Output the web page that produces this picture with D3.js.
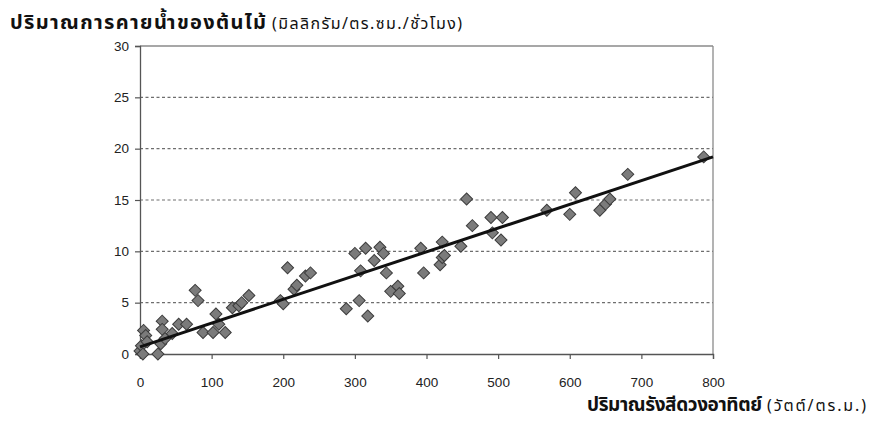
<!DOCTYPE html>
<html>
<head>
<meta charset="utf-8">
<script src="https://cdn.jsdelivr.net/npm/d3@7"></script>
<style>
  html, body { margin: 0; padding: 0; background: #ffffff; }
  svg { display: block; }
</style>
</head>
<body>
<svg id="chart" width="870" height="422"></svg>
<script>
// ---- data ----
const radiation = [0, 2, 4, 5, 8, 10, 25, 29, 31, 31, 35, 45, 54, 65, 77, 81, 88, 102, 106, 110, 119, 129, 138, 142, 152,
  196, 200, 206, 215, 219, 231, 238, 288, 300, 306, 308, 315, 318, 327, 335, 340, 344, 350, 360, 362,
  392, 396, 419, 422, 422, 425, 448, 456, 464, 490, 492, 504, 506, 568, 600, 608, 642, 650, 656, 681, 787];
const transpiration = [0.3, 0.8, 0, 2.3, 1.8, 1.2, 0, 1.0, 3.2, 2.4, 1.5, 2.0, 2.9, 2.9, 6.2, 5.2, 2.1, 2.1, 3.9, 2.9, 2.1, 4.5, 4.7, 5.0, 5.7,
  5.2, 4.9, 8.4, 6.3, 6.7, 7.6, 7.9, 4.4, 9.8, 5.2, 8.1, 10.3, 3.7, 9.1, 10.4, 9.8, 7.9, 6.1, 6.6, 5.9,
  10.3, 7.9, 8.7, 9.4, 10.9, 9.6, 10.5, 15.1, 12.5, 13.3, 11.8, 11.1, 13.3, 14.0, 13.6, 15.7, 14.0, 14.6, 15.1, 17.5, 19.2];
const trendX = [0, 800];
const trendY = [0.7, 19.2];
const xTicks = [0, 100, 200, 300, 400, 500, 600, 700, 800];
const yTicks = [0, 5, 10, 15, 20, 25, 30];
const yTitleMain = "ปริมาณการคายน้ำของต้นไม้";
const yTitleUnit = "(มิลลิกรัม/ตร.ซม./ชั่วโมง)";
const xTitleMain = "ปริมาณรังสีดวงอาทิตย์";
const xTitleUnit = "(วัตต์/ตร.ม.)";

// ---- layout ----
const svg = d3.select("#chart");
const plot = { left: 140, right: 713, top: 46, bottom: 354 };
const x = d3.scaleLinear().domain([0, 800]).range([plot.left, plot.right]);
const y = d3.scaleLinear().domain([0, 30]).range([plot.bottom, plot.top]);
const thaiFont = "'Noto Sans Thai', 'Noto Sans Thai Looped', Tahoma, 'Noto Sans', 'DejaVu Sans', sans-serif";
const numFont = "'Liberation Sans', Arial, sans-serif";

// gridlines (dashed), excluding 0 and 30
svg.append("g")
  .selectAll("line")
  .data(yTicks.filter(v => v > 0 && v < 30))
  .join("line")
  .attr("x1", plot.left).attr("x2", plot.right)
  .attr("y1", d => y(d)).attr("y2", d => y(d))
  .attr("stroke", "#6e6e6e").attr("stroke-width", 1.2)
  .attr("stroke-dasharray", "3,2.5");

// plot frame: top & right solid gray
svg.append("line").attr("x1", plot.left).attr("x2", plot.right)
  .attr("y1", y(30)).attr("y2", y(30)).attr("stroke", "#8a8a8a").attr("stroke-width", 1.3);
svg.append("line").attr("x1", plot.right).attr("x2", plot.right)
  .attr("y1", y(30)).attr("y2", y(0)).attr("stroke", "#8a8a8a").attr("stroke-width", 1.3);

// axes
const yAxis = d3.axisLeft(y).tickValues(yTicks).tickSize(5).tickPadding(6);
const gy = svg.append("g").attr("transform", `translate(${plot.left},0)`).call(yAxis);
const xAxis = d3.axisBottom(x).tickValues(xTicks).tickSize(5).tickPadding(18);
const gx = svg.append("g").attr("transform", `translate(0,${plot.bottom})`).call(xAxis);
[gx, gy].forEach(g => {
  g.select(".domain").attr("stroke", "#555").attr("stroke-width", 1.3);
  g.selectAll(".tick line").attr("stroke", "#555").attr("stroke-width", 1.2);
  g.selectAll(".tick text").attr("font-family", numFont).attr("font-size", 13.5).attr("fill", "#222");
});

// points (diamonds = squares rotated 45deg)
const pts = radiation.map((r, i) => ({ r, t: transpiration[i] }));
const diamond = d3.symbol().type(d3.symbolSquare).size(72);
svg.append("g")
  .selectAll("path")
  .data(pts)
  .join("path")
  .attr("d", diamond)
  .attr("transform", d => `translate(${x(d.r)},${y(d.t)}) rotate(45)`)
  .attr("fill", "#7b7b7b")
  .attr("stroke", "#3c3c3c")
  .attr("stroke-width", 1);

// trend line
const trend = trendX.map((v, i) => [v, trendY[i]]);
svg.append("path")
  .datum(trend)
  .attr("d", d3.line().x(d => x(d[0])).y(d => y(d[1])))
  .attr("fill", "none")
  .attr("stroke", "#111")
  .attr("stroke-width", 3);

// titles
function title(txt, xPos, yPos, size, bold, len) {
  svg.append("text")
    .attr("x", xPos).attr("y", yPos)
    .attr("font-family", thaiFont)
    .attr("font-size", size)
    .attr("font-weight", bold ? "bold" : "normal")
    .attr("fill", "#111")
    .attr("textLength", len)
    .attr("lengthAdjust", "spacing")
    .text(txt);
}
title(yTitleMain, 10, 29, 20, true, 256);
title(yTitleUnit, 272, 29, 16, false, 190);
title(xTitleMain, 587, 411, 19, true, 175);
title(xTitleUnit, 767, 411, 16, false, 99);
</script>
</body>
</html>
